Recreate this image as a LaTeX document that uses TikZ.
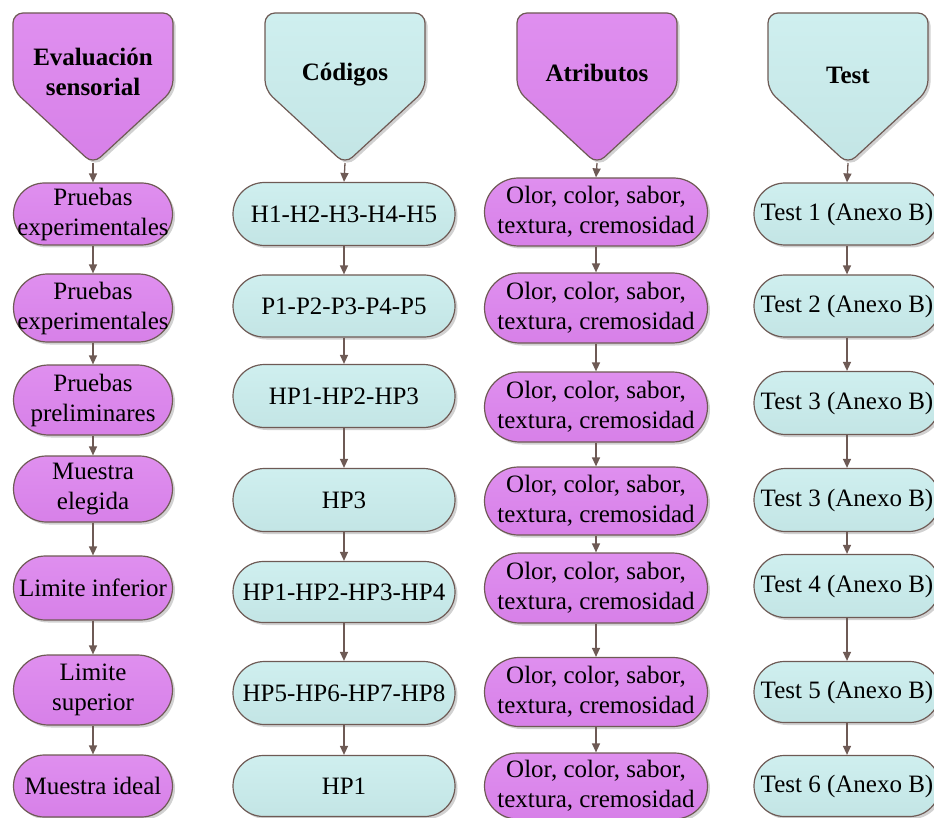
\documentclass[tikz,border=0pt]{standalone}
\usepackage{fontspec}
\setmainfont{Liberation Serif}
\usetikzlibrary{arrows.meta,shadows}

\definecolor{lila}{HTML}{D780E8}
\definecolor{lilatop}{HTML}{DF8FEF}
\definecolor{agua}{HTML}{C3E5E5}
\definecolor{aguatop}{HTML}{CFEFEF}
\definecolor{borde}{HTML}{6E5A55}

\tikzset{
  every node/.style={font=\fontsize{25}{30}\selectfont, align=center, inner sep=0pt, text=black},
  sombra/.style={drop shadow={shadow xshift=2.5pt, shadow yshift=-2.5pt, fill=black, opacity=0.18}},
  pill/.style={rectangle, draw=borde, line width=1.2pt, rounded corners=#1, minimum height=2*#1, sombra},
  morado/.style={top color=lilatop, bottom color=lila},
  celeste/.style={top color=aguatop, bottom color=agua},
  colA/.style={morado, minimum width=159pt},
  colB/.style={celeste, minimum width=222pt},
  colC/.style={morado, minimum width=223pt},
  colD/.style={celeste, minimum width=186pt},
  hdr/.style={draw=borde, line width=1.2pt, rounded corners=10pt, sombra},
  hdrtext/.style={font=\fontsize{25}{30}\selectfont\bfseries},
  conn/.style={draw=borde, line width=1.3pt, -{Triangle[width=8pt,length=9pt]}}
}

% pointed header box: centre x, fill style
\newcommand\cabezal[2]{%
  \path[hdr, #2] (#1-80,13) -- (#1+80,13) -- (#1+80,90) -- (#1,164) -- (#1-80,90) -- cycle;}

\begin{document}
\begin{tikzpicture}[x=1pt, y=-1pt]
\useasboundingbox (0,0) rectangle (934,818);

% headers
\cabezal{93}{morado}
\cabezal{345}{celeste}
\cabezal{597}{morado}
\cabezal{848}{celeste}
\node[hdrtext] (hA) at (93,72) {Evaluación\\sensorial};
\node[hdrtext] (hB) at (345,75) {Códigos};
\node[hdrtext] (hC) at (597,73) {Atributos};
\node[hdrtext] (hD) at (848,75) {Test};
\coordinate (tA) at (93,163);
\coordinate (tB) at (345,163);
\coordinate (tC) at (597,163);
\coordinate (tD) at (848,163);

% column 1
\node[pill=31pt, colA] (a1) at (93,214) {Pruebas\\experimentales};
\node[pill=34pt, colA] (a2) at (93,308) {Pruebas\\experimentales};
\node[pill=35pt, colA] (a3) at (93,400) {Pruebas\\preliminares};
\node[pill=33pt, colA] (a4) at (93,489) {Muestra\\elegida};
\node[pill=32pt, colA] (a5) at (93,588) {Limite inferior};
\node[pill=35pt, colA] (a6) at (93,690) {Limite\\superior};
\node[pill=31pt, colA] (a7) at (93,786) {Muestra ideal};

% column 2
\node[pill=31.5pt, colB] (b1) at (344,214) {H1-H2-H3-H4-H5};
\node[pill=31pt, colB] (b2) at (344,306) {P1-P2-P3-P4-P5};
\node[pill=31.5pt, colB] (b3) at (344,396) {HP1-HP2-HP3};
\node[pill=31.5pt, colB] (b4) at (344,500) {HP3};
\node[pill=30.5pt, colB] (b5) at (344,592) {HP1-HP2-HP3-HP4};
\node[pill=31.5pt, colB] (b6) at (344,693) {HP5-HP6-HP7-HP8};
\node[pill=30.5pt, colB] (b7) at (344,786) {HP1};

% column 3
\node[pill=34pt, colC] (c1) at (596,212) {Olor, color, sabor,\\textura, cremosidad};
\node[pill=35pt, colC] (c2) at (596,308) {Olor, color, sabor,\\textura, cremosidad};
\node[pill=35pt, colC] (c3) at (596,407) {Olor, color, sabor,\\textura, cremosidad};
\node[pill=34pt, colC] (c4) at (596,501) {Olor, color, sabor,\\textura, cremosidad};
\node[pill=35pt, colC] (c5) at (596,588) {Olor, color, sabor,\\textura, cremosidad};
\node[pill=34.5pt, colC] (c6) at (596,692) {Olor, color, sabor,\\textura, cremosidad};
\node[pill=33pt, colC] (c7) at (596,786) {Olor, color, sabor,\\textura, cremosidad};

% column 4
\node[pill=31pt, colD] (d1) at (847,214) {Test 1 (Anexo B)};
\node[pill=31pt, colD] (d2) at (847,306) {Test 2 (Anexo B)};
\node[pill=31.5pt, colD] (d3) at (847,403) {Test 3 (Anexo B)};
\node[pill=31.5pt, colD] (d4) at (847,500) {Test 3 (Anexo B)};
\node[pill=31.5pt, colD] (d5) at (847,586) {Test 4 (Anexo B)};
\node[pill=30.5pt, colD] (d6) at (847,692) {Test 5 (Anexo B)};
\node[pill=30.5pt, colD] (d7) at (847,786) {Test 6 (Anexo B)};

% connectors
\draw[conn] (tA) -- (a1.north);
\draw[conn] (tB) -- (b1.north);
\draw[conn] (tC) -- (c1.north);
\draw[conn] (tD) -- (d1.north);
\foreach \c in {a,b,c,d}{
  \foreach \i [evaluate=\i as \j using int(\i+1)] in {1,...,6}{
    \draw[conn] (\c\i.south) -- (\c\j.north);
  }
}
\end{tikzpicture}
\end{document}
